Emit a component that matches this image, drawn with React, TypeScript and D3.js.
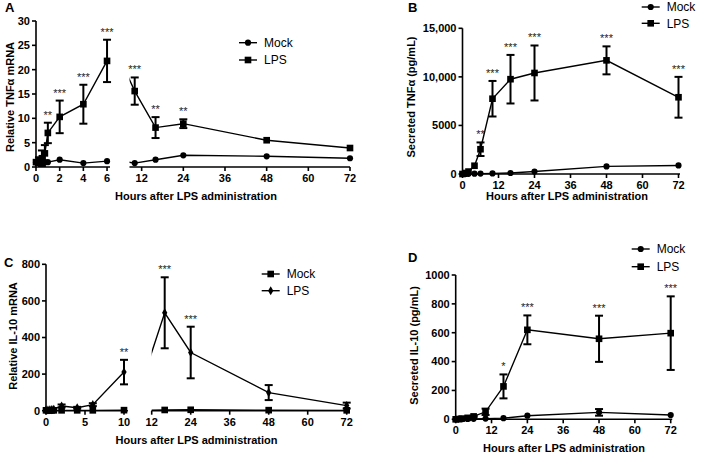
import React from "react";
import * as d3 from "d3";

// A: relative TNFa mRNA
const tnfMrnaHours = [0, 0.25, 0.5, 0.75, 1, 2, 4, 6, 10, 16, 24, 48, 72];
const tnfMrnaMock = [1, 1, 1.1, 1, 1, 1.5, 0.8, 1.2, 0.8, 1.5, 2.4, 2.2, 1.8];
const tnfMrnaLps = [1, 1.2, 1.8, 2.8, 7, 10.3, 12.9, 21.8, 15.6, 8.1, 8.9, 5.5, 3.9];
const tnfMrnaLpsSem = [0, 0.8, 1.6, 1.7, 2.1, 3.35, 4, 4.35, 2.8, 2.15, 0.9, 0, 0];
const tnfMrnaStars = ["", "", "", "", "**", "***", "***", "***", "***", "**", "**", "", ""];

// B: secreted TNFa (pg/mL)
const tnfSecHours = [0, 1, 2, 4, 6, 10, 16, 24, 48, 72];
const tnfSecMock = [0, 10, 20, 30, 40, 60, 100, 250, 780, 880];
const tnfSecLps = [0, 100, 250, 850, 2550, 7750, 9760, 10400, 11700, 7900];
const tnfSecLpsSem = [0, 0, 0, 0, 700, 1830, 2500, 2830, 1440, 2100];
const tnfSecStars = ["", "", "", "", "**", "***", "***", "***", "***", "***"];

// C: relative IL-10 mRNA
const il10MrnaHours = [0, 0.25, 0.5, 0.75, 1, 2, 4, 6, 10, 16, 24, 48, 72];
const il10MrnaMock = [2, 2, 2, 2, 2, 2, 2, 2, 3, 4, 5, 3, 2];
const il10MrnaLps = [3, 4, 5, 6, 8, 26, 16, 33, 211, 535, 318, 99, 28];
const il10MrnaLpsSem = [0, 0, 0, 0, 0, 8, 5, 8, 67, 194, 141, 41, 16];
const il10MrnaStars = ["", "", "", "", "", "", "", "", "**", "***", "***", "", ""];

// D: secreted IL-10 (pg/mL)
const il10SecHours = [0, 1, 2, 4, 6, 10, 16, 24, 48, 72];
const il10SecMock = [0, 0, 1, 2, 3, 5, 8, 25, 48, 30];
const il10SecMockSem = [0, 0, 0, 0, 0, 0, 0, 0, 23, 0];
const il10SecLps = [0, 2, 5, 10, 20, 52, 228, 620, 558, 597];
const il10SecLpsSem = [0, 0, 0, 0, 5, 22, 83, 100, 160, 255];
const il10SecStars = ["", "", "", "", "", "", "*", "***", "***", "***"];

const hoursTicksLate = [12, 24, 36, 48, 60, 72];
const hoursTicksFull = [0, 12, 24, 36, 48, 60, 72];

const FONT = "'Liberation Sans', Arial, sans-serif";

type Series = {
  name: string;
  hours: number[];
  values: number[];
  sem?: number[];
  stars?: string[];
  marker: "circle" | "square" | "diamond";
};

type Segment = { domain: [number, number]; range: [number, number]; ticks: number[] };

type PanelProps = {
  id: string;
  letter: string;
  letterPos: [number, number];
  segments: Segment[];
  yDomain: [number, number];
  yRange: [number, number];
  yTicks: number[];
  yFormat?: (v: number) => string;
  yTitle: string;
  yTitlePos: [number, number];
  xTitlePos: [number, number];
  series: Series[];
  legendPos: [number, number];
  legendGap: number;
};

const markerPath = (m: string) => {
  const type = m === "circle" ? d3.symbolCircle : m === "square" ? d3.symbolSquare : d3.symbolDiamond;
  const size = m === "circle" ? 30 : m === "square" ? 44 : 24;
  return d3.symbol().type(type).size(size)() as string;
};

const Panel = (p: PanelProps) => {
  const y = d3.scaleLinear().domain(p.yDomain).range(p.yRange);
  const xs = p.segments.map((s) => d3.scaleLinear().domain(s.domain).range(s.range));
  const segOf = (h: number) =>
    p.segments.findIndex((s) => h >= s.domain[0] - 1e-9 && h <= s.domain[1] + 1e-9);
  const axisY = p.yRange[0];
  const axisX = p.segments[0].range[0];
  const fmt = p.yFormat || ((v: number) => String(v));

  return (
    <g>
      <defs>
        {p.segments.map((s, i) => (
          <clipPath id={`${p.id}-clip${i}`} key={i}>
            <rect x={s.range[0]} y={0} width={s.range[1] - s.range[0]} height={456} />
          </clipPath>
        ))}
      </defs>
      <text x={p.letterPos[0]} y={p.letterPos[1]} fontSize={13} fontWeight="bold">
        {p.letter}
      </text>

      {/* y axis */}
      <line x1={axisX} x2={axisX} y1={axisY} y2={p.yRange[1]} stroke="#000" strokeWidth={1.6} />
      {p.yTicks.map((t) => (
        <g key={t}>
          <line x1={axisX - 4} x2={axisX} y1={y(t)} y2={y(t)} stroke="#000" strokeWidth={1.6} />
          <text x={axisX - 6} y={y(t)} dy="0.35em" textAnchor="end" fontSize={11} fontWeight="bold">
            {fmt(t)}
          </text>
        </g>
      ))}
      <text
        transform={`translate(${p.yTitlePos[0]},${p.yTitlePos[1]}) rotate(-90)`}
        textAnchor="middle"
        fontSize={11}
        fontWeight="bold"
      >
        {p.yTitle}
      </text>

      {/* x axis, one piece per segment */}
      {p.segments.map((s, i) => (
        <g key={i}>
          <line x1={s.range[0]} x2={s.range[1]} y1={axisY} y2={axisY} stroke="#000" strokeWidth={1.6} />
          {s.ticks.map((t) => (
            <g key={t}>
              <line x1={xs[i](t)} x2={xs[i](t)} y1={axisY} y2={axisY + 4} stroke="#000" strokeWidth={1.6} />
              <text x={xs[i](t)} y={axisY + 15} textAnchor="middle" fontSize={11} fontWeight="bold">
                {t}
              </text>
            </g>
          ))}
        </g>
      ))}
      <text x={p.xTitlePos[0]} y={p.xTitlePos[1]} textAnchor="middle" fontSize={11} fontWeight="bold">
        Hours after LPS administration
      </text>

      {/* series */}
      {p.series.map((se, k) => {
        const pts = se.hours.map((h, i) => ({ h, v: se.values[i], e: se.sem ? se.sem[i] : 0, s: se.stars ? se.stars[i] : "", seg: segOf(h) }));
        return (
          <g key={k}>
            {p.segments.map((_, si) => {
              const first = pts.findIndex((q) => q.seg === si);
              if (first < 0) return null;
              const inSeg = pts.filter((q) => q.seg === si);
              // GraphPad-style: line from the previous point enters the segment, clipped at the break
              const run = first > 0 ? [pts[first - 1], ...inSeg] : inSeg;
              const line = d3
                .line<{ h: number; v: number }>()
                .x((q) => xs[si](q.h))
                .y((q) => y(q.v));
              return (
                <path
                  key={si}
                  d={line(run) || ""}
                  fill="none"
                  stroke="#000"
                  strokeWidth={1.4}
                  clipPath={`url(#${p.id}-clip${si})`}
                />
              );
            })}
            {pts.map((q, i) => {
              const x = xs[q.seg](q.h);
              const top = y(q.v + q.e);
              const bot = y(Math.max(0, q.v - q.e));
              return (
                <g key={i}>
                  {q.e > 0 && (
                    <g stroke="#000" strokeWidth={2}>
                      <line x1={x} x2={x} y1={top} y2={bot} />
                      <line x1={x - 4} x2={x + 4} y1={top} y2={top} />
                      <line x1={x - 4} x2={x + 4} y1={bot} y2={bot} />
                    </g>
                  )}
                  <path d={markerPath(se.marker)} transform={`translate(${x},${y(q.v)})`} fill="#000" />
                  {q.s && (
                    <text x={x} y={top - 4} textAnchor="middle" fontSize={11} fill="#222">
                      {q.s}
                    </text>
                  )}
                </g>
              );
            })}
          </g>
        );
      })}

      {/* legend */}
      {p.series.map((se, k) => {
        const ly = p.legendPos[1] + k * p.legendGap;
        const lx = p.legendPos[0];
        return (
          <g key={k}>
            <line x1={lx} x2={lx + 18} y1={ly} y2={ly} stroke="#000" strokeWidth={1.4} />
            <path d={markerPath(se.marker)} transform={`translate(${lx + 9},${ly})`} fill="#000" />
            <text x={lx + 25} y={ly} dy="0.35em" fontSize={12}>
              {se.name}
            </text>
          </g>
        );
      })}
    </g>
  );
};

const secFormat = (v: number) => (v >= 10000 ? d3.format(",")(v) : String(v));

export default function App() {
  return (
    <svg
      width={709}
      height={456}
      style={{ position: "absolute", left: 0, top: 0, background: "#fff", fontFamily: FONT }}
    >
      <rect width={709} height={456} fill="#fff" />
      <Panel
        id="pa"
        letter="A"
        letterPos={[5, 12]}
        segments={[
          { domain: [0, 6.25], range: [36, 110], ticks: [0, 2, 4, 6] },
          { domain: [8.5, 72], range: [129.5, 350], ticks: hoursTicksLate },
        ]}
        yDomain={[0, 30]}
        yRange={[167, 21]}
        yTicks={[0, 5, 10, 15, 20, 25, 30]}
        yTitle="Relative TNFα mRNA"
        yTitlePos={[14, 97]}
        xTitlePos={[196, 200]}
        series={[
          { name: "Mock", hours: tnfMrnaHours, values: tnfMrnaMock, marker: "circle" },
          { name: "LPS", hours: tnfMrnaHours, values: tnfMrnaLps, sem: tnfMrnaLpsSem, stars: tnfMrnaStars, marker: "square" },
        ]}
        legendPos={[239, 42.7]}
        legendGap={17.3}
      />
      <Panel
        id="pb"
        letter="B"
        letterPos={[408, 12]}
        segments={[{ domain: [0, 72.5], range: [462.5, 680], ticks: hoursTicksFull }]}
        yDomain={[0, 15000]}
        yRange={[174, 28.3]}
        yTicks={[0, 5000, 10000, 15000]}
        yFormat={secFormat}
        yTitle="Secreted TNFα (pg/mL)"
        yTitlePos={[414.5, 97]}
        xTitlePos={[567, 200]}
        series={[
          { name: "Mock", hours: tnfSecHours, values: tnfSecMock, marker: "circle" },
          { name: "LPS", hours: tnfSecHours, values: tnfSecLps, sem: tnfSecLpsSem, stars: tnfSecStars, marker: "square" },
        ]}
        legendPos={[641.7, 7]}
        legendGap={16.3}
      />
      <Panel
        id="pc"
        letter="C"
        letterPos={[4, 267]}
        segments={[
          { domain: [0, 10.5], range: [46, 127.9], ticks: [0, 5, 10] },
          { domain: [12, 72], range: [151.7, 346.7], ticks: hoursTicksLate },
        ]}
        yDomain={[0, 800]}
        yRange={[410.7, 264.3]}
        yTicks={[0, 200, 400, 600, 800]}
        yTitle="Relative IL-10 mRNA"
        yTitlePos={[16.5, 336]}
        xTitlePos={[196.5, 444]}
        series={[
          { name: "Mock", hours: il10MrnaHours, values: il10MrnaMock, marker: "square" },
          { name: "LPS", hours: il10MrnaHours, values: il10MrnaLps, sem: il10MrnaLpsSem, stars: il10MrnaStars, marker: "diamond" },
        ]}
        legendPos={[261.7, 274]}
        legendGap={16.7}
      />
      <Panel
        id="pd"
        letter="D"
        letterPos={[408, 262]}
        segments={[{ domain: [0, 72.5], range: [455.7, 672.2], ticks: hoursTicksFull }]}
        yDomain={[0, 1000]}
        yRange={[419.3, 275]}
        yTicks={[0, 200, 400, 600, 800, 1000]}
        yTitle="Secreted IL-10 (pg/mL)"
        yTitlePos={[418, 345.5]}
        xTitlePos={[564, 452]}
        series={[
          { name: "Mock", hours: il10SecHours, values: il10SecMock, sem: il10SecMockSem, marker: "circle" },
          { name: "LPS", hours: il10SecHours, values: il10SecLps, sem: il10SecLpsSem, stars: il10SecStars, marker: "square" },
        ]}
        legendPos={[631.7, 249]}
        legendGap={17.7}
      />
    </svg>
  );
}
